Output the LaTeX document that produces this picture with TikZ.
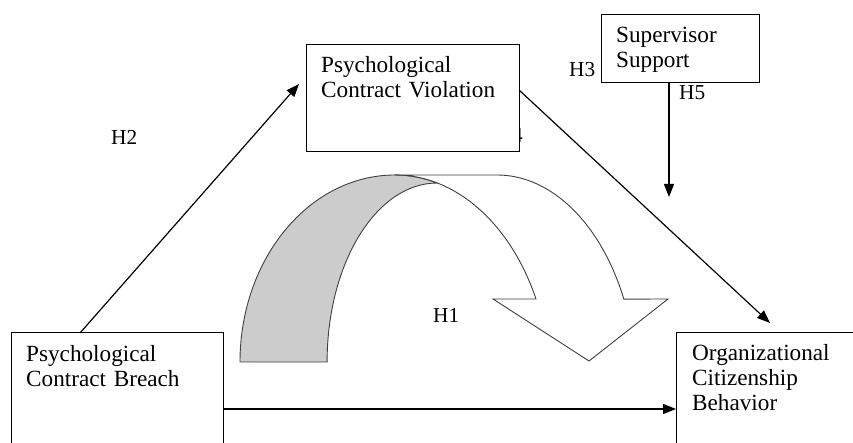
\documentclass[tikz,border=0pt]{standalone}
\usepackage{fontspec}
\setmainfont{Liberation Serif}
\usetikzlibrary{arrows.meta,calc}
\begin{document}
\begin{tikzpicture}[x=1pt,y=1pt,
  boxnode/.style={draw=black, line width=1pt, fill=white, rectangle, inner sep=0pt, outer sep=0pt, anchor=north west},
  txt/.style={anchor=base west, inner sep=0pt, align=left, text width=#1, font=\fontsize{23.2}{24.7}\selectfont},
  hlab/.style={inner sep=0pt, font=\fontsize{21.3}{24}\selectfont},
  conn/.style={line width=1.2pt, draw=black, -{Triangle[length=13pt,width=10pt]}},
  bandback/.style={draw=black!75, line width=0.9pt, fill=black!20},
  bandfront/.style={draw=black!75, line width=0.9pt, fill=white},
  ]
\useasboundingbox (0,0) rectangle (853,443);
\clip (0,0) rectangle (853,443);
\fill[white] (0,0) rectangle (853,443);

% label mostly hidden behind the violation box
\node[hlab, anchor=base east] (h4) at (523,300) {H4};

% boxes
\node[boxnode, minimum width=212pt, minimum height=150pt] (pcb) at (11,110) {};
\node[txt=190pt] (pcbt) at (26,81) {Psychological\\Contract Breach};

\node[boxnode, minimum width=213pt, minimum height=107pt] (pcv) at (306,398) {};
\node[txt=195pt] (pcvt) at (321,370) {Psychological\\Contract Violation};

\node[boxnode, minimum width=158pt, minimum height=68pt] (ss) at (601,428) {};
\node[txt=140pt] (sst) at (616,400) {Supervisor\\Support};

\node[boxnode, minimum width=200pt, minimum height=150pt] (ocb) at (676,110) {};
\node[txt=155pt] (ocbt) at (692,82) {Organizational\\Citizenship\\Behavior};

% labels
\node[hlab, anchor=base west] (h2) at (111,298) {H2};
\node[hlab, anchor=base west] (h3) at (569,366) {H3};
\node[hlab, anchor=base west] (h5) at (679,343) {H5};
\node[hlab, anchor=base west] (h1) at (433,120) {H1};

% connectors
\coordinate (h5end) at (669,246);
\draw[conn] ($(pcb.north west)+(69,0)$) -- ($(pcv.north west)+(-7,-39)$);
\draw[conn] ($(pcv.north east)+(0,-45)$) -- ($(ocb.north west)+(94,10)$);
\draw[conn] ($(ss.south west)+(68,0)$) -- (h5end);
\draw[conn] ($(pcb.north east)+(0,-76)$) -- ($(ocb.north west)+(0,-76)$);

% curved arrow: back (grey) part
\draw[bandback] (240,81) arc[start angle=180, end angle=90, x radius=155, y radius=187]
  arc[start angle=90, end angle=74.3, x radius=155.6, y radius=215]
  arc[start angle=90, end angle=180, x radius=110, y radius=179] -- cycle;
% front (white) part with head
\draw[bandfront, line join=miter] (395,268) -- (497,268)
  arc[start angle=90, end angle=25, x radius=140, y radius=215]
  -- (668,144) -- (589,82) -- (493,144) -- (536,144)
  arc[start angle=25, end angle=90, x radius=155.6, y radius=215] -- cycle;
\end{tikzpicture}
\end{document}
